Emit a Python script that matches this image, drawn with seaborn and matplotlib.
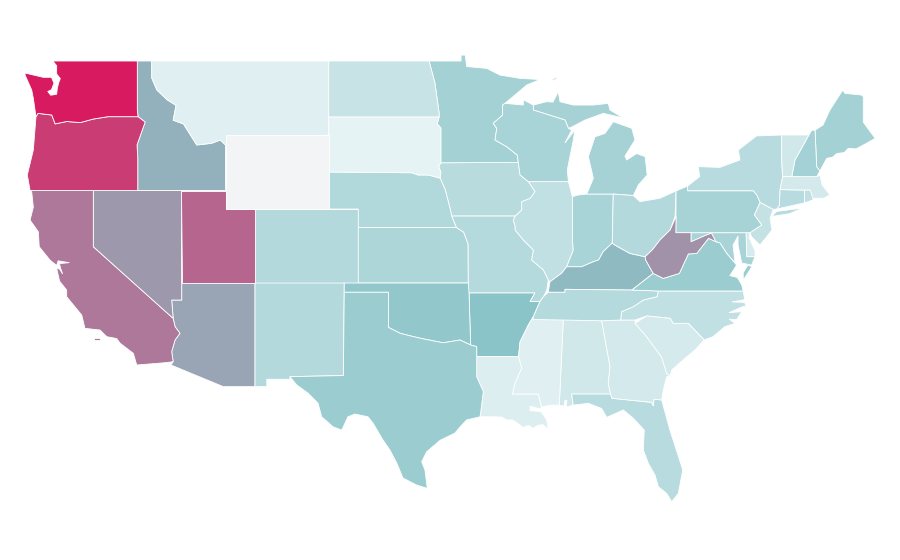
import numpy as np
import matplotlib
matplotlib.use("Agg")
import matplotlib.pyplot as plt
from matplotlib.collections import PolyCollection
from matplotlib.colors import Normalize
import seaborn as sns

# Score per state, read off the colours of the map (Wyoming has no value)
state_codes = ["AL", "AZ", "AR", "CA", "CO", "CT", "DE", "FL", "GA", "ID", "IL", "IN", "IA", "KS", "KY", "LA",
               "ME", "MD", "MA", "MI", "MN", "MS", "MO", "MT", "NE", "NV", "NH", "NJ", "NM", "NY", "NC", "ND",
               "OH", "OK", "OR", "PA", "RI", "SC", "SD", "TN", "TX", "UT", "VT", "VA", "WA", "WV", "WI", "WY"]
state_values = [12, 59.5, 50, 72.5, 28, 25.5, 8.7, 25.5, 10.9, 55.5, 20.6, 33.7, 25, 31, 53, 5.4,
                36.4, 33.7, 10.9, 34.8, 36.4, 3.3, 27, 3.8, 28.8, 63, 35.9, 18.5, 27.7, 25.5, 20, 16.8,
                27.7, 46, 90, 34, 21, 9.8, 0, 26.6, 40.8, 78, 12, 40.8, 100, 64.5, 33.7, np.nan]

scale_colors = ["#E6F3F5", "#8AC4C8", "#D81B60"]
missing_color = "#F3F4F6"

# Shared borders in lon/lat, so neighbouring states line up
wa_or = [(-116.98, 45.99), (-119.02, 45.99), (-120.03, 45.86), (-120.9, 45.67), (-121.82, 45.73), (-122.6, 45.6),
         (-122.83, 46.08), (-123.76, 46.17), (-123.9, 45.99)]
or_id = [(-117.0, 42.0), (-117.0, 43.8), (-117.05, 44.46), (-116.5, 45.7), (-116.98, 45.99)]
id_mt = [(-116.05, 49.0), (-116.05, 48.08), (-115.7, 47.43), (-115.0, 46.9), (-114.4, 46.6), (-114.6, 45.8),
         (-113.9, 45.6), (-113.0, 44.46), (-112.0, 44.55), (-111.4, 44.73), (-111.05, 44.46)]
ca_nv = [(-120.01, 42.0), (-120.01, 38.96), (-114.6, 35.09)]
ca_az = [(-114.6, 35.09), (-114.47, 34.64), (-114.14, 34.28), (-114.47, 33.92), (-114.7, 33.29), (-114.6, 32.75)]
nd_mn = [(-97.25, 49.0), (-96.85, 47.8), (-96.57, 46.2), (-96.57, 45.97)]
sd_mn = [(-96.57, 45.97), (-96.7, 45.6), (-96.45, 45.38), (-96.45, 43.5)]
sd_ia = [(-96.45, 43.5), (-96.6, 43.3), (-96.45, 43.0), (-96.5, 42.67)]
sd_ne = [(-96.5, 42.67), (-97.3, 42.84), (-98.0, 42.84), (-98.4, 42.96), (-104.05, 43.0)]
ne_ia = [(-96.5, 42.67), (-96.15, 42.03), (-95.8, 40.95), (-95.72, 40.62)]
ne_mo = [(-95.72, 40.62), (-95.4, 40.0)]
ks_mo = [(-95.4, 40.0), (-94.9, 39.75), (-94.6, 39.1), (-94.59, 37.0)]
red_river = [(-100.0, 34.6), (-99.2, 34.28), (-98.3, 34.1), (-97.75, 34.0), (-97.0, 33.88), (-96.3, 33.77),
             (-95.15, 33.92), (-94.43, 33.65)]
tx_ar_la = [(-94.43, 33.65), (-94.02, 33.56), (-94.02, 33.03)]
tx_la = [(-94.02, 33.03), (-94.02, 31.94), (-93.57, 31.13), (-93.75, 30.0), (-93.8, 29.77)]
ar_la = [(-94.02, 33.03), (-91.18, 33.03)]
ar_river = [(-89.73, 36.0), (-90.18, 35.18), (-90.52, 34.73), (-91.08, 33.82), (-91.18, 33.03)]
ms_la = [(-91.18, 33.03), (-90.97, 32.4), (-91.42, 31.58), (-91.6, 31.0), (-89.84, 31.0), (-89.62, 30.3)]
mo_ar = [(-94.59, 36.47), (-90.07, 36.47), (-90.4, 36.0), (-89.73, 36.0)]
mo_il = [(-89.17, 37.16), (-89.5, 37.7), (-90.3, 38.24), (-90.18, 38.78), (-90.86, 39.32), (-91.42, 39.86),
         (-91.42, 40.05), (-91.54, 40.4), (-91.42, 40.62)]
ia_il = [(-91.42, 40.62), (-90.97, 40.95), (-90.97, 41.4), (-90.4, 41.58), (-90.07, 41.94), (-90.52, 42.48)]
ia_wi = [(-90.52, 42.48), (-91.08, 42.84), (-91.2, 43.52)]
mn_wi = [(-92.1, 46.71), (-92.26, 46.62), (-92.26, 46.08), (-92.9, 45.63), (-92.66, 45.36), (-92.78, 44.73),
         (-91.99, 44.37), (-91.27, 43.92), (-91.2, 43.52)]
wi_mi = [(-90.18, 46.62), (-90.18, 46.35), (-88.03, 45.81), (-87.8, 45.36), (-87.58, 45.27)]
il_in = [(-87.53, 41.66), (-87.53, 39.32), (-87.47, 38.78), (-87.92, 37.88)]
ky_in = [(-84.83, 39.16), (-85.44, 38.7), (-85.75, 38.25), (-86.11, 38.15), (-86.9, 37.88), (-87.92, 37.88)]
ky_il = [(-87.92, 37.88), (-88.26, 37.53), (-89.05, 37.07)]
ky_oh = [(-84.83, 39.16), (-84.65, 39.05), (-83.63, 38.6), (-82.6, 38.42)]
ky_wv = [(-82.6, 38.42), (-82.56, 38.24), (-82.05, 37.52)]
ky_va = [(-82.05, 37.52), (-83.5, 36.62)]
ky_tn = [(-89.17, 36.5), (-88.03, 36.5), (-88.03, 36.66), (-83.5, 36.62)]
va_tn = [(-83.5, 36.62), (-81.7, 36.57)]
nc_tn = [(-81.7, 36.57), (-81.8, 36.26), (-82.72, 36.08), (-83.4, 35.72), (-84.2, 35.45), (-84.26, 35.0)]
nc_ga_sc = [(-84.26, 35.0), (-83.28, 35.0), (-82.5, 35.22), (-80.9, 35.09), (-80.7, 34.82), (-79.67, 34.82),
            (-78.6, 33.92)]
ga_sc = [(-83.28, 34.82), (-82.5, 34.1), (-81.48, 33.0), (-81.14, 32.1), (-80.9, 32.0)]
al_ga = [(-85.55, 34.96), (-84.98, 32.48), (-85.1, 31.58), (-84.94, 31.0)]
ga_fl = [(-84.94, 31.0), (-84.85, 30.77), (-82.16, 30.55), (-82.05, 30.36), (-82.0, 30.72), (-81.48, 30.68)]
oh_wv = [(-80.57, 40.6), (-80.9, 39.87), (-81.6, 39.32), (-82.1, 38.8), (-82.6, 38.42)]
wv_va = [(-82.05, 37.52), (-81.37, 37.25), (-80.28, 37.52), (-79.67, 38.57), (-79.1, 38.6), (-78.3, 39.42),
         (-77.8, 39.23)]
wv_md = [(-77.8, 39.23), (-78.1, 39.69), (-78.43, 39.6), (-79.49, 39.23), (-79.49, 39.72)]
pa_nj = [(-75.04, 41.76), (-74.81, 41.36), (-75.2, 40.68), (-74.7, 40.14), (-75.49, 39.72)]
vt_nh = [(-71.5, 45.0), (-72.44, 43.65), (-72.66, 42.75)]
nh_me = [(-71.08, 45.26), (-70.97, 43.29), (-70.75, 43.05)]

outlines = {
    "WA": [[(-122.76, 49.0), (-117.03, 49.0), (-117.03, 46.35)] + wa_or
           + [(-124.08, 46.98), (-124.19, 47.43), (-124.64, 48.24), (-124.64, 48.35), (-123.42, 48.12), (-122.85, 48.12),
              (-122.68, 47.8), (-122.85, 47.45), (-123.1, 47.35), (-122.9, 47.15), (-122.5, 47.2), (-122.45, 47.55),
              (-122.35, 47.85), (-122.25, 48.05), (-122.5, 48.3), (-122.5, 48.75)]],
    "OR": [[(-117.0, 42.0)] + or_id[1:] + wa_or[1:]
           + [(-124.08, 44.19), (-124.49, 42.84), (-124.3, 42.0)]],
    "CA": [ca_nv + ca_az[1:]
           + [(-115.04, 32.7), (-117.07, 32.57), (-117.3, 33.2), (-118.2, 33.75), (-118.43, 34.0), (-119.1, 34.1),
              (-119.56, 34.46), (-120.58, 34.55), (-120.8, 35.27), (-121.82, 36.26), (-121.82, 36.62), (-122.3, 37.1),
              (-122.5, 37.8), (-122.3, 37.75), (-122.1, 37.5), (-122.25, 37.85), (-122.3, 38.05), (-121.65, 38.1),
              (-122.4, 38.2), (-122.5, 37.95), (-122.95, 38.24), (-123.68, 38.96), (-123.74, 39.77), (-124.3, 40.4),
              (-124.08, 41.1), (-124.2, 42.0)],
           [(-119.95, 34.02), (-119.55, 34.02), (-119.55, 33.94), (-119.95, 33.94)]],
    "NV": [[(-120.01, 42.0), (-114.04, 42.0), (-114.02, 36.08), (-114.7, 36.08), (-114.6, 35.09), (-120.01, 38.96)]],
    "UT": [[(-114.04, 42.0), (-111.05, 42.0), (-111.05, 41.0), (-109.05, 41.0), (-109.05, 37.0), (-114.02, 37.0)]],
    "AZ": [[(-114.02, 37.0), (-109.05, 37.0), (-109.05, 31.4), (-111.2, 31.4), (-114.75, 32.57)] + ca_az[::-1]
           + [(-114.7, 36.08), (-114.02, 36.08)]],
    "ID": [[(-117.03, 49.0)] + id_mt + [(-111.05, 42.0), (-117.0, 42.0)] + or_id[1:] + [(-117.03, 46.35)]],
    "MT": [id_mt + [(-104.05, 45.0), (-104.05, 49.0)]],
    "WY": [[(-111.05, 45.0), (-104.05, 45.0), (-104.05, 41.0), (-111.05, 41.0)]],
    "CO": [[(-109.05, 41.0), (-102.05, 41.0), (-102.05, 37.0), (-109.05, 37.0)]],
    "NM": [[(-109.05, 37.0), (-103.0, 37.0), (-103.06, 32.0), (-106.68, 31.94), (-106.68, 31.8), (-108.25, 31.8),
            (-108.25, 31.4), (-109.05, 31.4)]],
    "ND": [[(-104.05, 49.0)] + nd_mn + [(-104.05, 45.97)]],
    "SD": [[(-104.05, 45.97)] + sd_mn + sd_ia[1:] + sd_ne[1:]],
    "NE": [[(-104.05, 43.0)] + sd_ne[::-1][1:] + ne_ia[1:] + ne_mo[1:] + [(-102.05, 40.0), (-102.05, 41.0), (-104.05, 41.0)]],
    "KS": [[(-102.05, 40.0)] + ks_mo + [(-102.05, 37.0)]],
    "OK": [[(-103.0, 37.0), (-94.59, 37.0), (-94.54, 36.47)] + red_river[::-1] + [(-100.0, 36.5), (-103.0, 36.5)]],
    "TX": [[(-103.0, 36.5), (-100.0, 36.5)] + red_river + tx_ar_la[1:] + tx_la[1:]
           + [(-94.7, 29.6), (-95.04, 29.32), (-95.5, 28.89), (-96.5, 28.5), (-97.41, 27.88), (-97.75, 27.34),
              (-97.53, 26.9), (-97.37, 25.9), (-98.09, 26.08), (-99.02, 26.46), (-99.44, 27.27), (-99.9, 27.97),
              (-100.37, 28.51), (-101.05, 29.43), (-101.39, 29.77), (-102.27, 29.92), (-102.75, 29.77),
              (-103.17, 29.05), (-103.76, 29.23), (-104.53, 29.77), (-104.78, 30.51), (-105.46, 31.05),
              (-106.22, 31.49), (-106.68, 31.94), (-103.06, 32.0)]],
    "MN": [[(-97.25, 49.0), (-95.08, 49.0), (-95.08, 49.32), (-94.8, 49.32), (-94.7, 48.7), (-93.34, 48.6),
            (-92.44, 48.24), (-91.08, 48.06), (-89.73, 48.0), (-90.63, 47.7), (-92.1, 46.71)] + mn_wi[1:]
           + [(-96.45, 43.5)] + sd_mn[::-1][1:] + nd_mn[::-1][1:]],
    "IA": [[(-96.45, 43.5), (-91.2, 43.52)] + ia_wi[::-1][1:] + ia_il[::-1][1:] + [(-95.72, 40.62)]
           + ne_ia[::-1][1:] + sd_ia[::-1][1:]],
    "MO": [[(-95.72, 40.62), (-91.42, 40.62)] + mo_il[::-1][1:] + [(-89.27, 36.6), (-89.5, 36.26), (-89.73, 36.0)]
           + mo_ar[::-1][1:] + ks_mo[::-1] + ne_mo[::-1][1:]],
    "AR": [mo_ar + ar_river[1:] + ar_la[::-1][1:] + tx_ar_la[::-1][1:]
           + [(-94.54, 36.47)]],
    "LA": [ar_la + ms_la[1:]
           + [(-89.75, 30.2), (-90.4, 30.35), (-90.4, 30.1), (-89.65, 30.05), (-89.27, 29.6), (-89.17, 29.1),
              (-89.55, 29.35), (-89.9, 29.3), (-90.2, 29.15), (-90.5, 29.3), (-90.88, 29.2), (-91.3, 29.45), (-91.6, 29.6),
              (-92.0, 29.6), (-92.3, 29.75), (-92.9, 29.77), (-93.8, 29.77)]
           + tx_la[::-1][1:]],
    "WI": [[(-92.1, 46.71), (-90.86, 46.62), (-90.86, 46.9), (-90.18, 46.62)] + wi_mi[1:]
           + [(-88.03, 44.58), (-87.36, 45.27), (-87.5, 44.6), (-87.7, 43.83), (-87.88, 43.1), (-87.8, 42.48), (-90.52, 42.48)]
           + ia_wi[1:] + mn_wi[::-1][1:]],
    "IL": [[(-90.52, 42.48), (-87.8, 42.48), (-87.53, 41.66)] + il_in[1:] + ky_il[1:] + [(-89.17, 37.16)] + mo_il[1:]
           + ia_il[1:]],
    "IN": [[(-87.53, 41.66), (-87.2, 41.75), (-86.56, 41.81), (-84.76, 41.81), (-84.83, 39.16)] + ky_in[1:] + il_in[::-1][1:]],
    "MI": [[(-86.56, 41.81), (-84.76, 41.81), (-83.4, 41.73), (-83.06, 42.3), (-82.46, 42.84), (-82.6, 43.83),
            (-83.17, 44.0), (-83.85, 43.65), (-83.97, 43.86), (-83.29, 44.73), (-83.5, 45.36), (-84.76, 45.72),
            (-85.32, 45.09), (-86.0, 44.9), (-86.45, 43.83), (-86.11, 42.66)],
           wi_mi[:-1] + [(-87.58, 45.43), (-86.67, 45.81), (-85.44, 46.17), (-84.08, 45.92), (-84.98, 46.35), (-85.1, 46.71),
                         (-86.11, 46.62), (-87.47, 46.62), (-88.37, 46.8), (-88.49, 47.34), (-88.85, 46.78), (-89.28, 46.8)],
           [(-89.15, 47.9), (-88.55, 48.15), (-88.65, 48.0)]],
    "OH": [[(-84.76, 41.81), (-83.4, 41.73), (-82.95, 41.4), (-81.6, 41.58), (-80.5, 41.98)] + [(-80.57, 40.6)] + oh_wv[1:]
           + ky_oh[::-1][1:] + [(-84.83, 39.16)]],
    "KY": [ky_in + ky_il[1:] + ky_tn + ky_va[::-1][1:] + ky_wv[::-1][1:] + ky_oh[::-1][1:]],
    "TN": [ky_tn + va_tn[1:] + nc_tn[1:] + [(-85.55, 34.96), (-90.2, 35.03), (-90.18, 35.18), (-89.73, 36.0), (-89.5, 36.26)]],
    "MS": [[(-90.2, 35.03), (-88.15, 35.03), (-88.42, 30.4), (-89.05, 30.4), (-89.62, 30.3)] + ms_la[::-1][1:]
           + ar_river[::-1][1:-1]],
    "AL": [[(-88.15, 35.03), (-85.55, 34.96)] + al_ga[1:]
           + [(-87.58, 31.0), (-87.47, 30.4), (-87.95, 30.3), (-87.9, 30.65), (-88.05, 30.65), (-88.1, 30.35), (-88.42, 30.4)]],
    "GA": [[(-85.55, 34.96), (-84.26, 35.0), (-83.28, 35.0), (-83.28, 34.82)] + ga_sc[1:]
           + [(-81.14, 31.93), (-81.37, 31.22), (-81.48, 30.68)] + ga_fl[::-1][1:] + al_ga[::-1][1:]],
    "FL": [[(-87.58, 31.0)] + ga_fl
           + [(-80.92, 29.05), (-80.05, 26.9), (-80.35, 25.63), (-80.8, 25.18), (-81.14, 25.63), (-81.7, 25.99),
              (-81.93, 26.62), (-82.38, 27.25), (-82.72, 27.97), (-82.66, 29.05), (-83.4, 29.69), (-84.08, 30.14),
              (-85.2, 29.74), (-85.55, 30.22), (-86.45, 30.5), (-87.47, 30.4)]],
    "SC": [[(-83.28, 34.82)] + nc_ga_sc[2:] + [(-79.22, 33.38), (-79.9, 32.93), (-80.8, 32.3)] + ga_sc[::-1]],
    "NC": [nc_tn[::-1]
           + [(-75.95, 36.57), (-75.85, 36.1), (-76.7, 35.98), (-75.85, 35.95), (-75.76, 35.72), (-76.0, 35.72), (-76.9, 35.4),
              (-76.05, 35.45), (-76.4, 35.02), (-76.9, 35.05), (-76.5, 34.82), (-77.2, 34.64), (-78.0, 34.1)]
           + nc_ga_sc[::-1][:-1]],
    "VA": [va_tn[::-1] + ky_va[::-1] + wv_va[1:] + [(-77.52, 39.16), (-77.07, 38.6), (-76.4, 37.97), (-76.85, 37.4),
                                                     (-76.35, 37.3), (-76.05, 36.9), (-75.95, 36.57)],
           [(-75.65, 37.95), (-75.35, 37.9), (-75.95, 37.15), (-75.95, 37.55)]],
    "WV": [[(-80.5, 40.6)] + oh_wv[1:] + ky_wv[1:] + wv_va[1:] + wv_md[1:] + [(-80.52, 39.72)]],
    "MD": [[(-79.49, 39.72), (-75.76, 39.72), (-75.71, 38.42), (-75.15, 38.42), (-75.38, 37.97), (-76.05, 38.08),
            (-76.3, 39.05), (-76.3, 39.54), (-76.64, 39.05), (-76.5, 38.08), (-77.07, 38.6), (-77.52, 39.16)]
           + wv_md[:-1]],
    "DE": [[(-75.76, 39.72), (-75.49, 39.82), (-75.55, 39.45), (-75.15, 38.75), (-75.15, 38.42), (-75.71, 38.42)]],
    "PA": [[(-80.5, 41.98), (-79.72, 42.24), (-79.72, 41.98), (-75.27, 41.98), (-75.04, 41.76)] + pa_nj[1:] + [(-80.52, 39.72)]],
    "NJ": [pa_nj[1:] + [(-75.38, 39.5), (-74.81, 39.05), (-74.0, 39.87), (-74.13, 40.5), (-73.91, 40.98)]],
    "NY": [[(-79.72, 41.98), (-79.72, 42.24), (-78.9, 42.75), (-79.0, 43.29), (-77.53, 43.25), (-76.17, 43.65),
            (-76.28, 44.19), (-75.04, 44.95), (-73.34, 45.0), (-73.34, 43.65), (-73.28, 42.75), (-73.46, 42.05),
            (-73.5, 41.2), (-73.68, 41.0), (-73.91, 40.98), (-74.81, 41.36), (-75.04, 41.76), (-75.27, 41.98)],
           [(-74.0, 40.6), (-72.8, 40.75), (-71.95, 41.05), (-72.6, 40.98), (-73.7, 40.87)]],
    "CT": [[(-73.46, 42.05), (-71.8, 42.02), (-71.8, 41.33), (-73.68, 41.0), (-73.5, 41.2)]],
    "RI": [[(-71.8, 42.02), (-71.4, 42.02), (-71.2, 41.5), (-71.8, 41.33)]],
    "MA": [[(-73.28, 42.75), (-70.97, 42.75), (-70.75, 42.84), (-70.6, 42.3), (-70.07, 41.76), (-70.5, 41.58),
            (-71.3, 41.58), (-71.4, 42.02), (-73.46, 42.05)]],
    "VT": [[(-73.34, 45.0)] + vt_nh + [(-73.28, 42.75), (-73.34, 43.65)]],
    "NH": [[(-71.5, 45.0), (-71.3, 45.26)] + nh_me + [(-70.97, 42.75)] + vt_nh[::-1][:-1]],
    "ME": [nh_me + [(-70.29, 43.74), (-69.9, 43.8), (-69.6, 44.0), (-69.1, 44.05), (-68.83, 44.28), (-68.3, 44.25),
                    (-67.6, 44.55), (-67.0, 44.82), (-67.45, 45.3), (-67.81, 45.7), (-67.81, 47.07), (-67.92, 47.16),
                    (-69.05, 47.25), (-69.2, 47.43), (-70.07, 46.35), (-70.54, 45.54)]],
}

sns.set_theme(style="white")

# Blue-pink score scale, empty states get the grey
score_cmap = sns.blend_palette(scale_colors, as_cmap=True)
score_cmap.set_bad(missing_color)

rings = []
ring_values = []
for code, value in zip(state_codes, state_values):
    for ring in outlines[code]:
        rings.append(ring)
        ring_values.append(value)

fig = plt.figure(figsize=(9, 5.6), dpi=100)
ax = fig.add_axes([0, 0, 1, 1])
states = PolyCollection(rings, array=np.ma.masked_invalid(ring_values), cmap=score_cmap,
                        norm=Normalize(vmin=0, vmax=100), edgecolors="white", linewidths=0.6, antialiaseds=True)
ax.add_collection(states)
ax.set_xlim(-126.34, -65.32)
ax.set_ylim(22.03, 52.297)
ax.set_axis_off()
sns.despine(ax=ax, left=True, bottom=True)

fig.savefig("out.png", dpi=100)
